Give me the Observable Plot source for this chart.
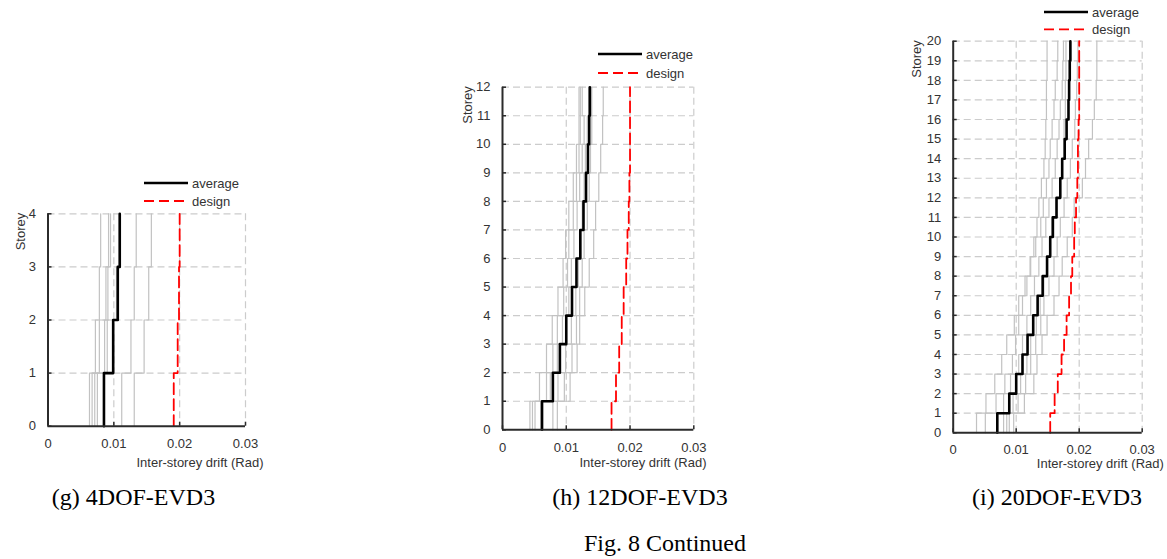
<!DOCTYPE html>
<html>
<head>
<meta charset="utf-8">
<script src="https://cdn.jsdelivr.net/npm/d3@7"></script>
<script src="https://cdn.jsdelivr.net/npm/@observablehq/plot@0.6"></script>
<style>
  body { margin: 0; background: #fff; }
  #root { position: relative; width: 1167px; height: 559px; overflow: hidden; background: #fff; }
  .panel { position: absolute; top: 0; }
  .legend { position: absolute; top: 0; overflow: visible; }
  .cap { position: absolute; font-family: "Liberation Serif", "Times New Roman", serif; font-size: 24px; color: #000; white-space: nowrap; transform: translate(-50%, -50%); }
</style>
</head>
<body>
<div id="root"></div>
<script>
// ---------------- data ----------------
const xTicks = [0, 0.01, 0.02, 0.03];
const yTitle = "Storey";
const xTitle = "Inter-storey drift (Rad)";
const legendLabels = ["average", "design"];
const panelCaptions = ["(g) 4DOF-EVD3", "(h) 12DOF-EVD3", "(i) 20DOF-EVD3"];
const figureCaption = "Fig. 8 Continued";

// (g) 4DOF-EVD3 : drift per storey (storey 1 .. 4)
const g_records = [
  [0.0063, 0.0072, 0.0078, 0.0080],
  [0.0067, 0.0078, 0.0088, 0.0092],
  [0.0071, 0.0086, 0.0091, 0.0095],
  [0.0075, 0.0090, 0.0104, 0.0108],
  [0.0112, 0.0126, 0.0131, 0.0134],
  [0.0131, 0.0146, 0.0153, 0.0157]
];
const g_average = [0.0085, 0.0099, 0.0106, 0.0109];
const g_design  = [0.0191, 0.0197, 0.0199, 0.0200];

// (h) 12DOF-EVD3 : storey 1 .. 12
const h_records = [
  [0.0043, 0.0058, 0.0069, 0.0078, 0.0087, 0.0095, 0.0099, 0.0104, 0.0111, 0.0116, 0.0120, 0.0120],
  [0.0047, 0.0069, 0.0079, 0.0086, 0.0096, 0.0102, 0.0104, 0.0111, 0.0116, 0.0120, 0.0122, 0.0122],
  [0.0051, 0.0075, 0.0086, 0.0094, 0.0104, 0.0108, 0.0112, 0.0117, 0.0121, 0.0125, 0.0128, 0.0125],
  [0.0079, 0.0087, 0.0099, 0.0108, 0.0115, 0.0119, 0.0123, 0.0125, 0.0128, 0.0130, 0.0133, 0.0135],
  [0.0086, 0.0097, 0.0109, 0.0116, 0.0121, 0.0125, 0.0128, 0.0133, 0.0136, 0.0138, 0.0140, 0.0140],
  [0.0060, 0.0106, 0.0117, 0.0121, 0.0129, 0.0136, 0.0143, 0.0146, 0.0151, 0.0154, 0.0157, 0.0158]
];
const h_average = [0.0062, 0.0079, 0.0090, 0.0100, 0.0109, 0.0116, 0.0122, 0.0127, 0.0131, 0.0134, 0.0136, 0.0137];
const h_design  = [0.0171, 0.0178, 0.0183, 0.0187, 0.0190, 0.0194, 0.0196, 0.0198, 0.0199, 0.0200, 0.0200, 0.0200];

// (i) 20DOF-EVD3 : storey 1 .. 20
const i_records = [
  [0.0037, 0.0052, 0.0066, 0.0077, 0.0085, 0.0097, 0.0104, 0.0114, 0.0122, 0.0128, 0.0133, 0.0136, 0.0140, 0.0144, 0.0146, 0.0147, 0.0148, 0.0148, 0.0149, 0.0149],
  [0.0051, 0.0068, 0.0082, 0.0094, 0.0099, 0.0104, 0.0110, 0.0117, 0.0123, 0.0131, 0.0139, 0.0143, 0.0148, 0.0152, 0.0154, 0.0157, 0.0160, 0.0162, 0.0165, 0.0166],
  [0.0080, 0.0080, 0.0091, 0.0104, 0.0110, 0.0117, 0.0123, 0.0129, 0.0136, 0.0141, 0.0147, 0.0152, 0.0157, 0.0162, 0.0165, 0.0168, 0.0170, 0.0173, 0.0174, 0.0175],
  [0.0085, 0.0095, 0.0107, 0.0117, 0.0123, 0.0132, 0.0138, 0.0144, 0.0149, 0.0153, 0.0160, 0.0164, 0.0169, 0.0172, 0.0176, 0.0176, 0.0178, 0.0178, 0.0179, 0.0179],
  [0.0089, 0.0103, 0.0115, 0.0123, 0.0131, 0.0139, 0.0144, 0.0152, 0.0160, 0.0165, 0.0170, 0.0176, 0.0181, 0.0186, 0.0189, 0.0193, 0.0194, 0.0196, 0.0197, 0.0198],
  [0.0096, 0.0113, 0.0128, 0.0133, 0.0141, 0.0149, 0.0160, 0.0168, 0.0173, 0.0181, 0.0189, 0.0192, 0.0205, 0.0210, 0.0215, 0.0221, 0.0224, 0.0227, 0.0228, 0.0228]
];
const i_average = [0.0070, 0.0089, 0.0100, 0.0110, 0.0118, 0.0127, 0.0134, 0.0142, 0.0149, 0.0154, 0.0158, 0.0164, 0.0170, 0.0173, 0.0177, 0.0180, 0.0183, 0.0184, 0.0185, 0.0186];
const i_design  = [0.0154, 0.0161, 0.0166, 0.0172, 0.0176, 0.0180, 0.0184, 0.0187, 0.0189, 0.0192, 0.0193, 0.0195, 0.0197, 0.0198, 0.0198, 0.0199, 0.0200, 0.0200, 0.0200, 0.0200];

// ---------------- layout (styles / positions only) ----------------
const layouts = [
  { left: 0,   width: 270,   mLeft: 47.5, frameW: 197.5, top: 213.3, bottom: 425.7, yTitleDx: -32.5, xTitleDx: 18,   xTitleDy: 41,   tickPad: 13, legX: 144, legY: 183, legGap: 18 },
  { left: 440, width: 281,   mLeft: 62,   frameW: 191.3, top: 86.7,  bottom: 429.3, yTitleDx: -39.5, xTitleDx: 12.7, xTitleDy: 37.5, tickPad: 13, legX: 158, legY: 54.3, legGap: 19 },
  { left: 890, width: 277,   mLeft: 62.7, frameW: 189,   top: 40.7,  bottom: 432.3, yTitleDx: -41.5, xTitleDx: 21.6, xTitleDy: 35,   tickPad: 12, legX: 154, legY: 11.7, legGap: 17.3 }
];
const captionPos = [[133.5, 497], [640, 497], [1057, 497]];
const figCaptionPos = [665, 543];

const GRID = "#cccccc";
const GREY = "#c2c2c2";
const RED = "#ff0000";
const AXIS = "#2b2b2b";
const TEXT = "#333333";

// step profile vertices: value of storey k spans y = k-1 .. k
function profile(vals, id) {
  const pts = [];
  vals.forEach((v, k) => {
    pts.push({ x: v, y: k, id });
    pts.push({ x: v, y: k + 1, id });
  });
  return pts;
}

const datasets = [
  { records: g_records, average: g_average, design: g_design },
  { records: h_records, average: h_average, design: h_design },
  { records: i_records, average: i_average, design: i_design }
];

const root = document.getElementById("root");

datasets.forEach((ds, p) => {
  const L = layouts[p];
  const N = ds.average.length;
  const yTicks = d3.range(0, N + 1);
  const greyPts = ds.records.flatMap((r, j) => profile(r, "r" + j));
  const height = L.bottom + 50;

  const chart = Plot.plot({
    width: L.width,
    height: height,
    marginTop: L.top,
    marginBottom: 50,
    marginLeft: L.mLeft,
    marginRight: L.width - L.mLeft - L.frameW,
    x: { domain: [0, 0.03], label: null },
    y: { domain: [0, N], label: null },
    style: { background: "transparent", overflow: "visible", fontFamily: "'Liberation Sans', Arial, sans-serif", fontSize: "13px", color: TEXT },
    marks: [
      Plot.ruleY(yTicks.slice(1), { stroke: GRID, strokeWidth: 1.2, strokeDasharray: "7,4" }),
      Plot.ruleX(xTicks.slice(1), { stroke: GRID, strokeWidth: 1.2, strokeDasharray: "7,4" }),
      Plot.line(greyPts, { x: "x", y: "y", z: "id", stroke: GREY, strokeWidth: 1.2 }),
      Plot.line(profile(ds.average, "avg"), { x: "x", y: "y", stroke: "#000", strokeWidth: 2.6 }),
      Plot.line(profile(ds.design, "des"), { x: "x", y: "y", stroke: RED, strokeWidth: 1.8, strokeDasharray: "11,5" }),
      Plot.ruleX([0], { stroke: AXIS, strokeWidth: 2 }),
      Plot.ruleY([0], { stroke: AXIS, strokeWidth: 2 }),
      // inward tick marks
      Plot.axisY(yTicks, { tickSize: 4, dx: 4, stroke: AXIS, strokeWidth: 1.5, tickFormat: () => "", label: null }),
      Plot.axisX(xTicks, { tickSize: 4, dy: -4, stroke: AXIS, strokeWidth: 1.5, tickFormat: () => "", label: null }),
      // tick labels
      Plot.axisY(yTicks, { tickSize: 0, tickPadding: 12, tickFormat: d => String(d), label: null }),
      Plot.axisX(xTicks, { tickSize: 0, tickPadding: L.tickPad, tickFormat: d => d === 0 ? "0" : String(d), label: null }),
      // axis titles
      Plot.text([yTitle], { frameAnchor: "top-left", rotate: -90, textAnchor: "end", dx: L.yTitleDx, dy: -1, fill: TEXT }),
      Plot.text([xTitle], { frameAnchor: "bottom-right", textAnchor: "end", dx: L.xTitleDx, dy: L.xTitleDy, fill: TEXT })
    ]
  });
  chart.classList.add("panel");
  chart.style.left = L.left + "px";
  root.appendChild(chart);

  // legend
  const leg = d3.select(root).append("svg")
    .attr("class", "legend")
    .attr("width", 120).attr("height", 50)
    .style("left", (L.left + L.legX) + "px")
    .style("top", (L.legY - 10) + "px");
  const items = [
    { label: legendLabels[0], stroke: "#000", width: 2.6, dash: null },
    { label: legendLabels[1], stroke: RED, width: 1.8, dash: "10,5" }
  ];
  items.forEach((it, k) => {
    const y = 10 + k * L.legGap;
    leg.append("line").attr("x1", 0).attr("x2", 44).attr("y1", y).attr("y2", y)
      .attr("stroke", it.stroke).attr("stroke-width", it.width).attr("stroke-dasharray", it.dash);
    leg.append("text").attr("x", 48).attr("y", y).attr("dy", "0.35em")
      .attr("font-family", "'Liberation Sans', Arial, sans-serif").attr("font-size", 13)
      .attr("fill", TEXT).text(it.label);
  });

  const cap = document.createElement("div");
  cap.className = "cap";
  cap.style.left = captionPos[p][0] + "px";
  cap.style.top = captionPos[p][1] + "px";
  cap.textContent = panelCaptions[p];
  root.appendChild(cap);
});

const fc = document.createElement("div");
fc.className = "cap";
fc.style.left = figCaptionPos[0] + "px";
fc.style.top = figCaptionPos[1] + "px";
fc.textContent = figureCaption;
root.appendChild(fc);
</script>
</body>
</html>
